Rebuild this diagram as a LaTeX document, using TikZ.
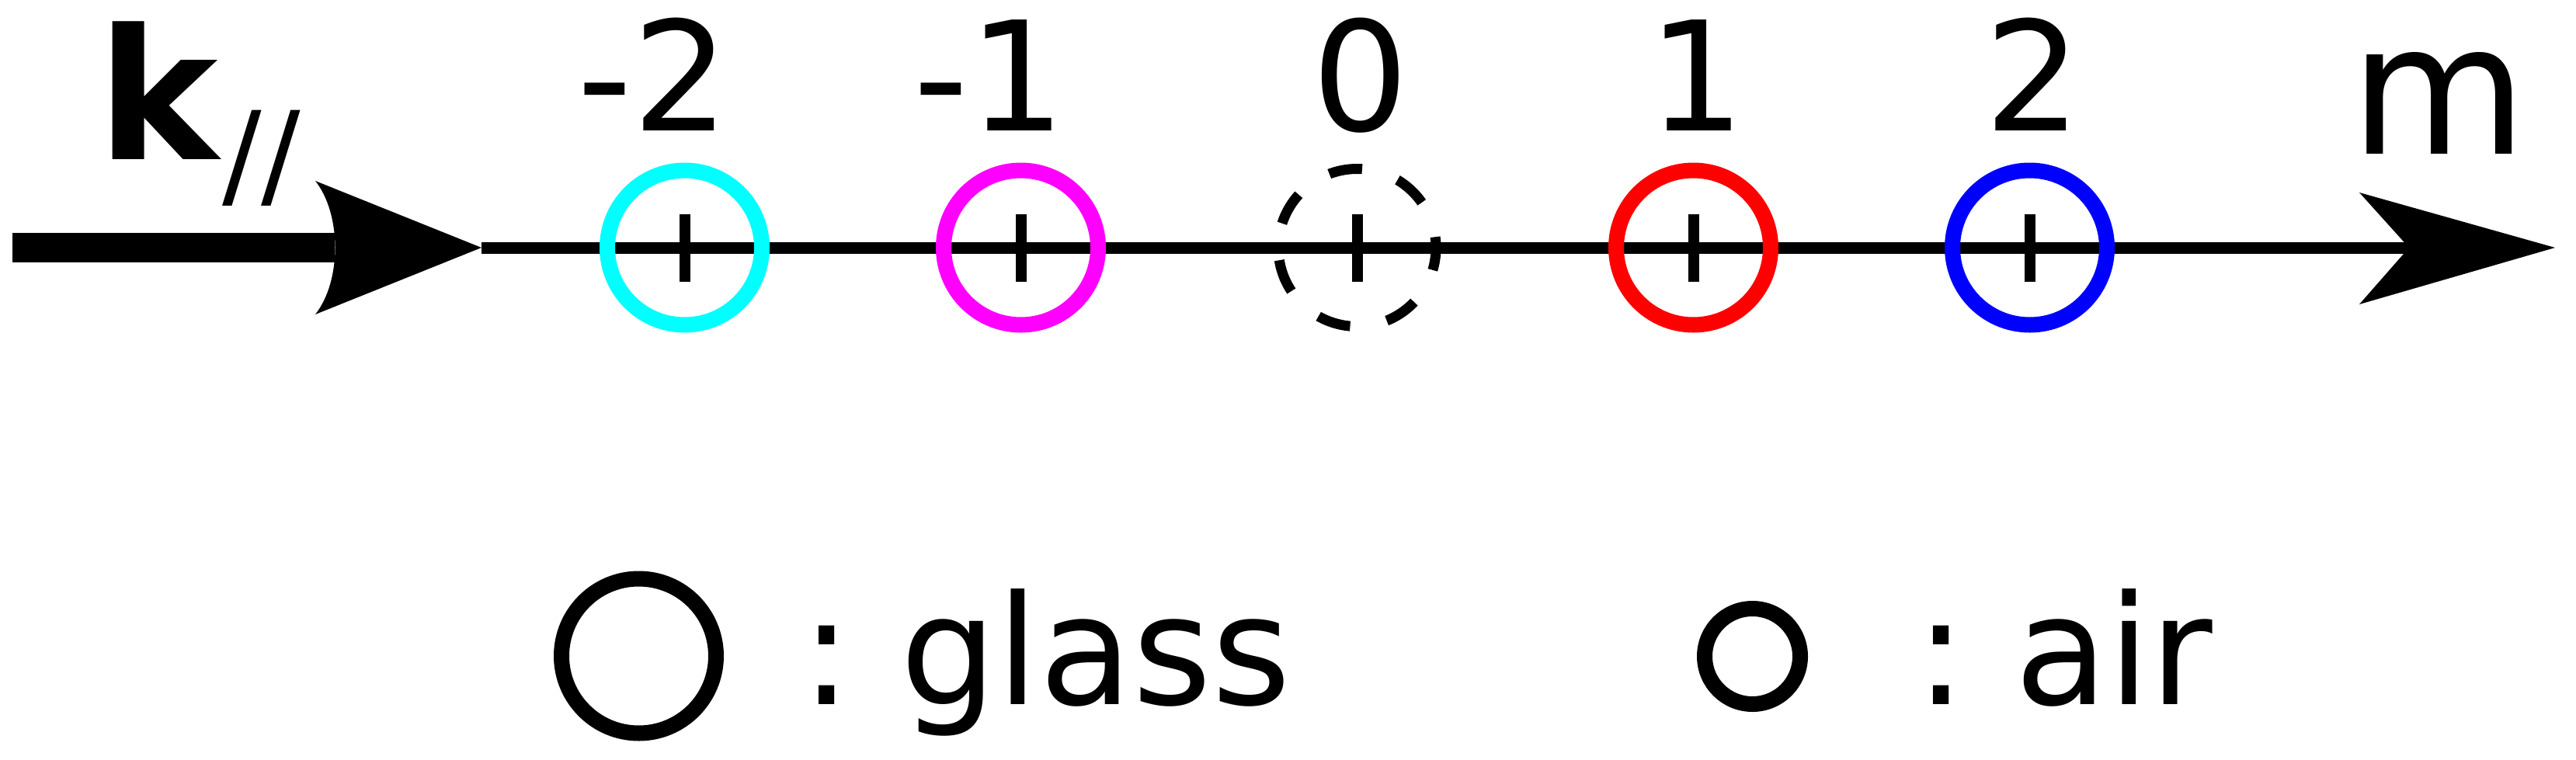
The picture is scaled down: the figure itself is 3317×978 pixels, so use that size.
\documentclass[tikz,border=0pt]{standalone}
\usepackage{fontspec}
\setmainfont{DejaVu Sans}
\definecolor{ringcyan}{RGB}{0,255,255}
\definecolor{ringmagenta}{RGB}{255,0,255}
\definecolor{ringred}{RGB}{255,0,0}
\definecolor{ringblue}{RGB}{0,0,255}
\begin{document}
\frenchspacing
\begin{tikzpicture}[x=1pt,y=-1pt,
  ring/.style={circle, draw, line width=20pt, minimum size=199pt, inner sep=0pt, outer sep=0pt},
  dashring/.style={circle, draw=black, line width=13pt, minimum size=203pt, inner sep=0pt, outer sep=0pt,
                   dash pattern=on 43pt off 48.1pt, dash phase=29.2pt},
  lab/.style={anchor=base, inner sep=0pt, outer sep=0pt, font=\fontsize{196pt}{200pt}\selectfont},
  bigtext/.style={anchor=base west, inner sep=0pt, outer sep=0pt, font=\fontsize{234pt}{240pt}\selectfont},
  legendtext/.style={anchor=base west, inner sep=0pt, outer sep=0pt, font=\fontsize{196pt}{200pt}\selectfont},
  tickmark/.style={line width=14pt},
  axisline/.style={line width=15pt}]
\useasboundingbox (0,0) rectangle (3317,978);

% axis anchor points
\coordinate (kstart) at (16,319);
\coordinate (knotch) at (431,319);
\coordinate (ktip) at (620,319);
\coordinate (mnotch) at (3102,319);
\coordinate (mtip) at (3290,319);

% thick k arrow
\draw[line width=38pt] (kstart) -- (knotch);
\fill (406,233) -- (ktip) -- (406,405) .. controls (440,362) and (440,276) .. (406,233) -- cycle;

% thin m axis
\draw[axisline] (ktip) -- (mnotch);
\fill (3038,248) -- (mtip) -- (3038,392) -- (mnotch) -- cycle;

% order circles
\node[ring, draw=ringcyan]    (cm2) at (881.5,319) {};
\node[ring, draw=ringmagenta] (cm1) at (1314.5,319) {};
\node[dashring]               (c0)  at (1747.5,319) {};
\node[ring, draw=ringred]     (cp1) at (2180.5,319) {};
\node[ring, draw=ringblue]    (cp2) at (2613.5,319) {};

% ticks
\foreach \n in {cm2,cm1,c0,cp1,cp2}{
  \draw[tickmark] ([yshift=43.5pt]\n.center) -- ([yshift=-43.5pt]\n.center);
}

% order labels
\node[lab] (lm2) at (877,168)  {\llap{-}2};
\node[lab] (lm1) at (1310,168) {\llap{-}1};
\node[lab] (l0)  at (1752,168) {0};
\node[lab] (lp1) at (2184.5,168) {1};
\node[lab] (lp2) at (2618,168) {2};

% k_// and m
\node[bigtext, font=\fontsize{234pt}{240pt}\selectfont\bfseries] (klab) at (125,205) {k};
\node[anchor=base west, inner sep=0pt, outer sep=0pt, font=\fontsize{150pt}{150pt}\selectfont] (ksub) at (286,251) {//};
\node[bigtext] (mlab) at (3026,198) {m};

% legend
\node[ring, draw=black] (lgglass) at (822.5,845) {};
\node[ring, draw=black, minimum size=123pt] (lgair) at (2256.5,845.5) {};
\node[legendtext] (tglass) at (1031,907) {: glass};
\node[legendtext] (tair) at (2466,907) {: air};
\end{tikzpicture}
\end{document}
